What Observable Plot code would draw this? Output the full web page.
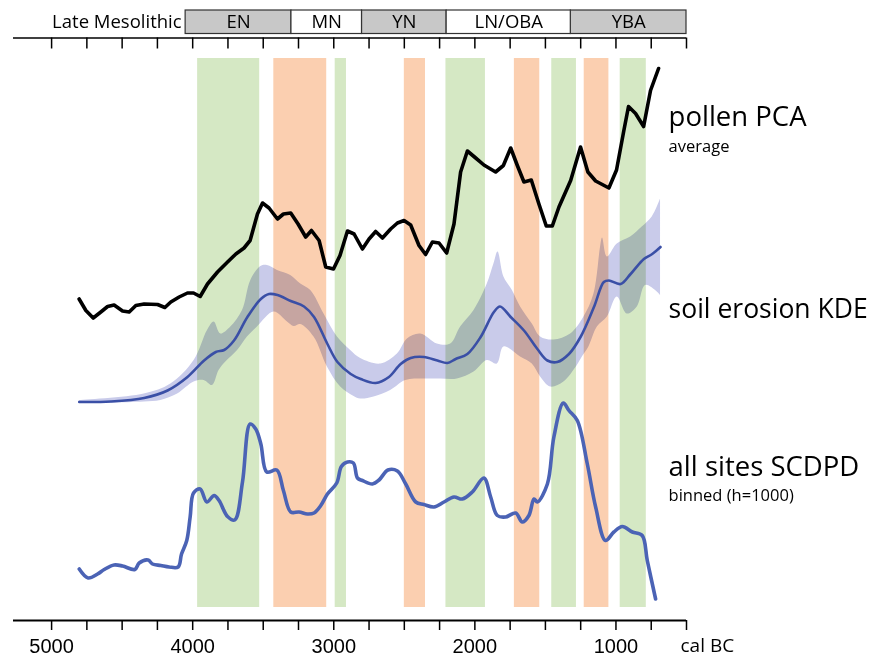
<!DOCTYPE html>
<html><head><meta charset="utf-8">
<script src="https://cdn.jsdelivr.net/npm/d3@7"></script>
<script src="https://cdn.jsdelivr.net/npm/@observablehq/plot@0.6"></script>
<style>body{margin:0;background:#fff} svg{display:block}</style>
</head><body><div id="chart"></div>
<script>
// ---- cultural periods (cal BC) ----
const periodName   = ["Late Mesolithic", "EN", "MN", "YN", "LN/OBA", "YBA"];
const periodStart  = [5270, 4050, 3300, 2800, 2200, 1320];
const periodEnd    = [4050, 3300, 2800, 2200, 1320, 500];
const periodShaded = [false, true, false, true, false, true];

// ---- highlighted intervals (cal BC) ----
const greenStart  = [3965, 2990, 2205, 1455, 970];
const greenEnd    = [3525, 2910, 1925, 1280, 785];
const orangeStart = [3425, 2500, 1720, 1225];
const orangeEnd   = [3050, 2350, 1540, 1050];

// ---- axis ticks ----
const tickYears = d3.range(500, 5001, 250);
const tickLabels = [5000, 4000, 3000, 2000, 1000];

// ---- pollen PCA average ----
const pollenYear = [4805,4757,4705,4651,4603,4557,4497,4450,4403,4344,4249,4197,4155,4096,4037,3994,3947,3895,3824,3753,3694,3636,3593,3541,3505,3459,3399,3357,3305,3253,3199,3158,3104,3057,3002,2956,2903,2856,2797,2750,2703,2655,2597,2549,2502,2455,2396,2349,2301,2254,2200,2148,2101,2053,1994,1936,1853,1798,1746,1699,1652,1600,1546,1494,1451,1404,1321,1251,1199,1144,1050,996,944,911,861,804,755,698];
const pollenValue = [64.3,62.0,60.5,61.7,62.8,63.1,61.9,61.7,63.0,63.3,63.2,62.6,63.7,64.7,65.5,65.5,64.8,67.3,69.7,71.7,73.3,74.5,76.0,81.3,83.5,82.5,80.3,81.3,81.5,79.3,76.7,78.0,76.0,70.7,70.3,73.0,77.9,77.3,74.3,76.3,77.8,76.5,78.3,79.5,80.0,79.1,75.0,73.2,75.7,75.5,73.5,79.3,89.7,93.9,92.5,91.1,89.7,91.0,94.5,91.0,87.7,88.1,83.3,78.9,78.9,82.7,88.0,94.7,89.7,87.9,86.5,90.1,98.0,102.8,101.4,98.8,106.0,110.4];

// ---- soil erosion KDE ----
const kdeYear = [4804,4580,4344,4178,4037,3919,3836,3777,3707,3612,3517,3459,3399,3305,3211,3140,3045,2974,2880,2809,2703,2609,2526,2455,2361,2266,2195,2136,2053,1959,1865,1822,1746,1652,1557,1486,1416,1333,1251,1156,1086,1050,967,896,802,743,684];
const kdeValue = [43.7,43.8,44.5,46.0,48.7,52.0,53.7,54.1,56.0,60.7,64.3,65.3,65.1,63.9,62.8,60.7,55.3,51.7,49.3,48.3,47.5,48.7,51.3,52.5,52.7,52.0,51.5,52.3,53.3,56.7,61.7,62.8,60.7,58.0,54.3,52.0,51.7,53.3,56.7,62.7,67.7,68.0,67.3,69.3,72.3,73.3,74.7];
const envUpperYear = [4804,4344,4155,3990,3895,3848,3801,3730,3647,3588,3517,3470,3399,3305,3234,3163,3069,2974,2880,2809,2667,2549,2478,2384,2266,2171,2101,2006,1912,1865,1836,1794,1734,1676,1593,1534,1440,1321,1227,1156,1109,1095,1061,991,896,814,743,684];
const envUpperValue = [44.0,45.3,47.3,52.0,58.0,59.7,57.3,58.7,62.0,68.0,70.8,71.0,70.0,69.0,67.3,66.0,61.3,56.7,54.0,52.4,51.3,53.3,56.3,57.3,55.3,55.3,58.7,62.0,67.3,71.3,73.7,68.7,66.0,62.7,59.3,56.7,56.1,57.3,60.7,65.3,74.7,76.5,72.7,75.3,76.7,78.7,80.7,84.3];
const envLowerYear = [4804,4580,4344,4226,4107,3990,3919,3860,3813,3765,3682,3612,3541,3423,3328,3281,3234,3140,3045,2951,2856,2809,2715,2597,2490,2361,2242,2124,2006,1912,1841,1794,1676,1593,1534,1463,1369,1274,1236,1192,1132,1061,991,920,849,790,719,684];
const envLowerValue = [43.5,43.5,43.7,44.0,45.3,47.7,48.0,47.0,50.0,51.7,54.0,56.7,58.7,61.7,59.7,58.8,59.2,56.7,50.7,46.7,44.8,44.3,44.7,46.0,48.0,48.3,48.3,48.3,49.7,52.0,51.3,54.7,52.7,51.3,48.7,46.7,47.7,51.0,52.8,54.7,58.7,60.7,64.7,61.3,62.7,67.0,66.0,65.0];

// ---- all sites SCDPD (binned, h=1000) ----
const scdpdYear = [4804,4741,4674,4627,4557,4497,4410,4379,4316,4285,4226,4167,4103,4079,4042,4018,3994,3947,3900,3848,3813,3753,3702,3647,3593,3553,3517,3475,3404,3357,3305,3246,3187,3140,3092,3045,2979,2946,2903,2861,2832,2797,2726,2679,2616,2549,2490,2419,2361,2290,2219,2148,2089,2018,1936,1888,1841,1782,1711,1664,1617,1581,1557,1486,1440,1373,1333,1274,1203,1144,1074,1015,955,884,814,778,719];
const scdpdValue = [10.3,8.5,9.3,10.2,11.1,10.9,10.2,11.5,12.1,11.3,11.0,10.7,10.7,13.3,16.0,20.7,25.5,26.3,23.7,25.0,24.0,20.8,20.1,27.7,39.3,38.3,35.3,29.7,30.1,26.0,21.7,21.7,21.3,21.5,23.0,25.3,27.5,30.8,31.7,31.5,28.5,28.0,27.3,28.1,30.1,29.9,27.3,23.7,23.2,22.7,23.7,24.7,24.3,25.7,28.5,24.7,21.0,20.7,21.5,19.7,21.0,24.3,23.7,27.3,36.7,43.5,42.0,40.0,31.3,22.7,16.0,17.7,18.8,17.7,17.0,12.0,4.3];

// ---- build tables ----
const zip = (xs, ys) => xs.map((x, i) => ({x, y: ys[i]}));
const pollen = zip(pollenYear, pollenValue);
const kde = zip(kdeYear, kdeValue);
const scdpd = zip(scdpdYear, scdpdValue);
const envelope = envUpperYear.map((x, i) => ({xu: x, yu: envUpperValue[i], xl: envLowerYear[i], yl: envLowerValue[i]}));
const periods = periodName.map((name, i) => ({name, start: periodStart[i], end: periodEnd[i], shaded: periodShaded[i]}));
const greens = greenStart.map((s, i) => ({start: s, end: greenEnd[i]}));
const oranges = orangeStart.map((s, i) => ({start: s, end: orangeEnd[i]}));
const boxed = periods.slice(1);

const chart = Plot.plot({
  width: 877, height: 657,
  marginLeft: 13, marginRight: 191, marginTop: 10, marginBottom: 37,
  x: {domain: [5270, 500], axis: null},
  y: {domain: [0, 122], axis: null},
  style: {fontFamily: "'Open Sans', sans-serif", background: "#fff", overflow: "visible", color: "#000"},
  marks: [
    Plot.rect(greens, {x1: "start", x2: "end", y1: 2.6, y2: 112.4, fill: "#d5e8c4"}),
    Plot.rect(oranges, {x1: "start", x2: "end", y1: 2.6, y2: 112.4, fill: "#fbcfb0"}),
    Plot.area(envelope, {x1: "xl", y1: "yl", x2: "xu", y2: "yu", fill: "#c9cbea", curve: "catmull-rom", mixBlendMode: "multiply"}),
    Plot.line(kde, {x: "x", y: "y", stroke: "#3a4fa6", strokeWidth: 2.6, curve: "catmull-rom"}),
    Plot.line(scdpd, {x: "x", y: "y", stroke: "#4b63b5", strokeWidth: 3.6, curve: "catmull-rom", strokeLinejoin: "round"}),
    Plot.line(pollen, {x: "x", y: "y", stroke: "#000", strokeWidth: 3.6, strokeLinejoin: "round"}),
    // period header
    Plot.rect(boxed.filter(d => d.shaded), {x1: "start", x2: "end", y1: 117.3, y2: 122, fill: "#c8c8c8", stroke: "#333", strokeWidth: 1.2}),
    Plot.rect(boxed.filter(d => !d.shaded), {x1: "start", x2: "end", y1: 117.3, y2: 122, fill: "#fff", stroke: "#333", strokeWidth: 1.2}),
    Plot.text(boxed, {x: d => (d.start + d.end) / 2, y: 119.65, text: "name", fontSize: 18.5}),
    Plot.text(periods.slice(0, 1), {x: "end", y: 119.65, text: "name", fontSize: 18.5, textAnchor: "end", dx: -4}),
    Plot.ruleY([116.5], {stroke: "#000", strokeWidth: 1.5}),
    Plot.ruleX(tickYears, {y1: 116.5, y2: 114.3, stroke: "#000", strokeWidth: 1.5}),
    // bottom axis
    Plot.ruleY([0], {stroke: "#000", strokeWidth: 2}),
    Plot.axisX(tickYears, {anchor: "bottom", tickSize: 10, tickPadding: 8, strokeWidth: 1.5,
      tickFormat: d => tickLabels.includes(d) ? String(d) : "", fontSize: 20, fontFamily: "'Liberation Sans', Arial, sans-serif"}),
    Plot.text(["cal BC"], {x: 500, y: -5, dx: -6, text: d => d, textAnchor: "start", fontSize: 19}),
    // series labels
    Plot.text(["pollen PCA"], {x: 627, y: 100.6, text: d => d, textAnchor: "start", fontSize: 27.5}),
    Plot.text(["average"], {x: 627, y: 94.8, text: d => d, textAnchor: "start", fontSize: 16.5}),
    Plot.text(["soil erosion KDE"], {x: 627, y: 62.2, text: d => d, textAnchor: "start", fontSize: 26.5}),
    Plot.text(["all sites SCDPD"], {x: 627, y: 30.6, text: d => d, textAnchor: "start", fontSize: 27.5}),
    Plot.text(["binned (h=1000)"], {x: 627, y: 25.0, text: d => d, textAnchor: "start", fontSize: 16.5})
  ]
});
document.getElementById("chart").appendChild(chart);
</script>
</body></html>
